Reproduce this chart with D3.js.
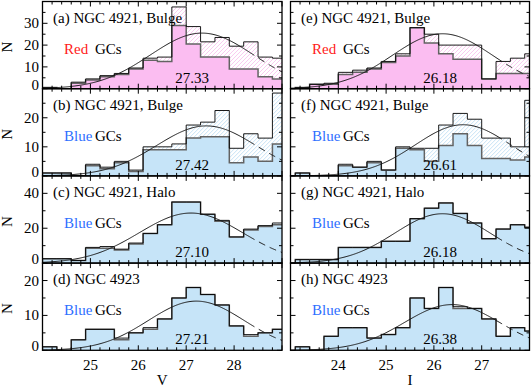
<!DOCTYPE html>
<html>
<head>
<meta charset="utf-8">
<script src="https://cdn.jsdelivr.net/npm/d3@7"></script>
<style>
  body { margin: 0; background: #ffffff; }
  svg { display: block; font-family: "Liberation Serif", "DejaVu Serif", serif; }
  .frame { fill: none; stroke: #000000; stroke-width: 1.3; }
  .obs-line { fill: none; stroke: #636363; stroke-width: 1.5; }
  .cor-line { fill: none; stroke: #000000; stroke-width: 0.9; }
  .fit { fill: none; stroke: #1a1a1a; stroke-width: 1; }
  .tick { stroke: #000000; stroke-width: 1; }
</style>
</head>
<body>
<svg id="canvas" width="531" height="389"></svg>
<script>
  // bin starts, 0.3 mag wide
  const vBins = [24.0, 24.3, 24.6, 24.9, 25.2, 25.5, 25.8, 26.1, 26.4, 26.7, 27.0, 27.3, 27.6, 27.9, 28.2, 28.5, 28.8];
  const iBins = [23.1, 23.4, 23.7, 24.0, 24.3, 24.6, 24.9, 25.2, 25.5, 25.8, 26.1, 26.4, 26.7, 27.0, 27.3, 27.6, 27.9];
  const binWidth = 0.3;

  // observed counts (filled) and completeness-corrected counts (outline)
  const obsA = [0.5, 0, 2.5, 4, 5.5, 6.5, 9, 13, 12.5, 29, 20.5, 14.5, 14.5, 9, 9, 5.5, 4.5];
  const corA = [0.5, 0, 3, 4.5, 6, 7, 9.5, 14, 14.5, 37.5, 28.5, 21.5, 23.5, 19.5, 21.5, 14.5, 14];
  const obsB = [1, 1, 0, 3.5, 2.5, 4.5, 1.5, 9, 9, 9, 13, 13.5, 13.5, 4.5, 6.5, 5, 11];
  const corB = [1, 1, 0, 4, 3, 5, 2, 10, 10, 11, 17.5, 18.5, 22.5, 9.5, 14.5, 13, 28.5];
  const obsC = [2.5, 2.5, 1.5, 8.5, 8.5, 7.5, 11, 17, 22, 35, 35, 28, 24, 15, 19, 21, 22];
  const corC = [2.5, 2.5, 1.5, 9, 9.5, 8, 11.5, 17, 22, 35, 35, 28, 24.5, 15, 19.5, 21.5, 23];
  const obsD = [1, 0, 3, 6, 6, 3, 5, 6, 9, 15, 18, 16, 13, 7, 4, 5, 6];
  const corD = [1, 0, 3, 6, 6, 3.5, 5, 6.5, 9, 15, 18, 16, 13, 7, 4.5, 5, 6];

  const obsE = [0.5, 2, 2, 6.5, 7.5, 9, 12, 15, 28, 21, 16, 13.5, 13.5, 4.5, 7, 7, 7];
  const corE = [0.5, 2, 2.5, 7.5, 8.5, 9.5, 12.5, 16, 28, 25, 20, 20, 20, 4.5, 12.5, 14, 16];
  const obsF = [1, 0, 0, 3.5, 3, 4.5, 2, 9.5, 9, 5, 10.5, 14.5, 10.5, 6, 6, 5.5, 6.5];
  const corF = [1, 0, 0, 4, 3, 5, 2, 10, 9.5, 9.5, 17.5, 21.5, 19.5, 13, 13, 10, 26];
  const obsG = [2, 2, 2, 9, 9, 9, 12.5, 12.5, 25.5, 31.5, 34.5, 28.5, 23, 14, 19.5, 22, 20.5];
  const corG = [2, 2, 2, 9, 9, 9, 12.5, 12.5, 25.5, 31.5, 34.5, 28.5, 23, 14, 19.5, 22, 20.5];
  const obsH = [1, 0, 4, 6.5, 6.5, 3.5, 4.5, 6.5, 15, 12, 18, 12, 12, 9, 4, 6.5, 5.5];
  const corH = [1, 0, 4, 6.5, 6.5, 3.5, 4.5, 6.5, 15, 12, 18, 12.5, 12, 9, 4, 6.5, 5.5];

  // gaussian fits: turnover, amplitude, sigma
  const peakV = [27.33, 27.42, 27.10, 27.21];
  const ampV = [25.5, 17.2, 28.7, 14.1];
  const sigV = [1.08, 1.04, 1.08, 1.0];
  const peakI = [26.18, 26.61, 26.18, 26.38];
  const ampI = [25.2, 17.6, 28.3, 13.1];
  const sigI = [1.05, 1.0, 1.0, 1.0];
  const fitLimitV = 28.3;
  const fitLimitI = 27.3;

  const titlesV = ["(a) NGC 4921, Bulge", "(b) NGC 4921, Bulge", "(c) NGC 4921, Halo", "(d) NGC 4923"];
  const titlesI = ["(e) NGC 4921, Bulge", "(f) NGC 4921, Bulge", "(g) NGC 4921, Halo", "(h) NGC 4923"];
  const gcWord = ["Red", "Blue", "Blue", "Blue"];

  const yMax = [40, 30, 50, 25];
  const yTicks = [[0, 10, 20, 30], [0, 10, 20], [0, 20, 40], [0, 10, 20]];
  const yMinor = [[5, 15, 25, 35], [5, 15, 25], [10, 30], [5, 15]];
  const vTicks = [25, 26, 27, 28];
  const iTicks = [24, 25, 26, 27];

  const svg = d3.select("#canvas");
  const defs = svg.append("defs");

  const colTop = 1.5, rowH = 87.2;
  const cols = [
    { x0: 42.5, x1: 282, domain: [24, 29], bins: vBins, obs: [obsA, obsB, obsC, obsD], cor: [corA, corB, corC, corD],
      peak: peakV, amp: ampV, sig: sigV, limit: fitLimitV, titles: titlesV, ticks: vTicks, axisLabel: "V" },
    { x0: 290.5, x1: 529.5, domain: [23, 28], bins: iBins, obs: [obsE, obsF, obsG, obsH], cor: [corE, corF, corG, corH],
      peak: peakI, amp: ampI, sig: sigI, limit: fitLimitI, titles: titlesI, ticks: iTicks, axisLabel: "I" }
  ];

  function steps(bins, vals) {
    const pts = [[bins[0], 0]];
    bins.forEach((b, i) => { pts.push([b, vals[i]]); pts.push([b + binWidth, vals[i]]); });
    pts.push([bins[bins.length - 1] + binWidth, 0]);
    return pts;
  }

  cols.forEach((c, ci) => {
    const x = d3.scaleLinear().domain(c.domain).range([c.x0, c.x1]);

    for (let r = 0; r < 4; r++) {
      const top = colTop + r * rowH, bottom = top + rowH;
      const y = d3.scaleLinear().domain([0, yMax[r]]).range([bottom, top]);
      const isRed = r === 0;
      const fillColour = isRed ? "#fbbdf1" : "#c6e4f8";
      const hatchColour = isRed ? "#f7b6ea" : "#aed5f1";

      const clipId = `clip-${ci}-${r}`;
      defs.append("clipPath").attr("id", clipId)
        .append("rect").attr("x", c.x0).attr("y", top).attr("width", c.x1 - c.x0).attr("height", rowH);
      const g = svg.append("g").attr("clip-path", `url(#${clipId})`);

      const area = d3.area().x(d => x(d[0])).y0(y(0)).y1(d => y(d[1]));
      const line = d3.line().x(d => x(d[0])).y(d => y(d[1]));
      const corPts = steps(c.bins, c.cor[r]);
      const obsPts = steps(c.bins, c.obs[r]);

      // hatching inside the corrected histogram, clipped to its shape
      const hatchId = `hatch-${ci}-${r}`;
      defs.append("clipPath").attr("id", hatchId).append("path").attr("d", area(corPts));
      const hg = g.append("g").attr("clip-path", `url(#${hatchId})`);
      let d = "";
      for (let s = c.x0 - rowH; s < c.x1; s += 4) d += `M${s},${bottom}L${s + rowH},${top}`;
      hg.append("path").attr("d", d)
        .attr("fill", "none").attr("stroke", hatchColour).attr("stroke-width", 0.7);

      g.append("path").attr("d", area(obsPts)).attr("fill", fillColour);
      g.append("path").attr("d", line(obsPts)).attr("class", "obs-line");
      g.append("path").attr("d", line(corPts)).attr("class", "cor-line");

      // gaussian fit, dashed past the fitting limit
      const gauss = m => c.amp[r] * Math.exp(-Math.pow(m - c.peak[r], 2) / (2 * c.sig[r] * c.sig[r]));
      const solid = d3.range(c.domain[0], c.limit + 0.001, 0.02).map(m => [m, gauss(m)]);
      const dashed = d3.range(c.limit, c.domain[1] + 0.001, 0.02).map(m => [m, gauss(m)]);
      g.append("path").attr("d", line(solid)).attr("class", "fit");
      g.append("path").attr("d", line(dashed)).attr("class", "fit").attr("stroke-dasharray", "7,5");

      // ticks on all four sides, pointing in
      const tk = svg.append("g");
      d3.range(Math.round(c.domain[0] * 5), Math.round(c.domain[1] * 5) + 1).forEach(k => {
        const m = k / 5, len = (k % 5 === 0) ? 5 : 3, px = x(m);
        tk.append("line").attr("class", "tick").attr("x1", px).attr("x2", px).attr("y1", bottom).attr("y2", bottom - len);
        tk.append("line").attr("class", "tick").attr("x1", px).attr("x2", px).attr("y1", top).attr("y2", top + len);
      });
      yTicks[r].concat(yMinor[r]).forEach(v => {
        const len = yTicks[r].includes(v) ? 5 : 3, py = y(v);
        tk.append("line").attr("class", "tick").attr("x1", c.x0).attr("x2", c.x0 + len).attr("y1", py).attr("y2", py);
        tk.append("line").attr("class", "tick").attr("x1", c.x1).attr("x2", c.x1 - len).attr("y1", py).attr("y2", py);
      });

      svg.append("rect").attr("class", "frame")
        .attr("x", c.x0).attr("y", top).attr("width", c.x1 - c.x0).attr("height", rowH);

      // texts
      svg.append("text").attr("x", c.x0 + 10.5).attr("y", top + 21)
        .attr("font-size", 15).text(c.titles[r]);
      svg.append("text").attr("x", c.x0 + 21.5).attr("y", top + 52)
        .attr("font-size", 15).attr("fill", isRed ? "#ff1a1a" : "#2f6fff").text(gcWord[r]);
      svg.append("text").attr("x", c.x0 + 52.5).attr("y", top + 52)
        .attr("font-size", 15).text("GCs");
      svg.append("text").attr("x", ci === 0 ? 192 : 440).attr("y", top + 81)
        .attr("text-anchor", "middle").attr("font-size", 15).text(c.peak[r].toFixed(2));

      if (ci === 0) {
        yTicks[r].forEach(v => {
          svg.append("text").attr("x", c.x0 - 3.5).attr("y", y(v) + (v === 0 ? 1 : 5))
            .attr("text-anchor", "end").attr("font-size", 15).text(v);
        });
        svg.append("text").attr("transform", `translate(11.5,${top + rowH / 2 + 2}) rotate(-90)`)
          .attr("text-anchor", "middle").attr("font-size", 15).text("N");
      }
    }

    const base = colTop + 4 * rowH;
    c.ticks.forEach(t => {
      svg.append("text").attr("x", x(t)).attr("y", base + 19.5)
        .attr("text-anchor", "middle").attr("font-size", 15).text(t);
    });
    svg.append("text").attr("x", (c.x0 + c.x1) / 2).attr("y", base + 34.5)
      .attr("text-anchor", "middle").attr("font-size", 15).text(c.axisLabel);
  });
</script>
</body>
</html>
